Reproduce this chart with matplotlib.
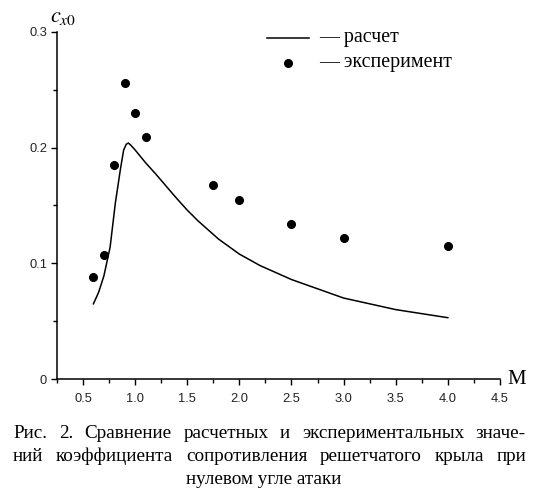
import matplotlib
matplotlib.use("Agg")
import matplotlib.pyplot as plt
from matplotlib.ticker import MultipleLocator, FormatStrFormatter

# расчет (calculated curve)
calc_m = [0.6, 0.65, 0.7, 0.76, 0.81, 0.86, 0.89, 0.915, 0.935, 0.96, 1.0, 1.1,
          1.2, 1.4, 1.5, 1.6, 1.8, 2.0, 2.2, 2.5, 3.0, 3.5, 4.0]
calc_cx = [0.065, 0.075, 0.089, 0.114, 0.152, 0.182, 0.198, 0.203, 0.204, 0.202,
           0.198, 0.187, 0.177, 0.156, 0.146, 0.137, 0.121, 0.108, 0.098, 0.086,
           0.070, 0.060, 0.053]

# эксперимент (experiment)
exp_m = [0.6, 0.7, 0.8, 0.9, 1.0, 1.1, 1.75, 2.0, 2.5, 3.0, 4.0]
exp_cx = [0.088, 0.107, 0.185, 0.256, 0.230, 0.209, 0.168, 0.155, 0.134, 0.122, 0.115]

x_ticks = [0.5, 1.0, 1.5, 2.0, 2.5, 3.0, 3.5, 4.0, 4.5]
y_ticks = [0, 0.1, 0.2, 0.3]
y_labels = ["0", "0.1", "0.2", "0.3"]

caption = [
    "Рис. 2. Сравнение расчетных и экспериментальных значе-",
    "ний коэффициента сопротивления решетчатого крыла при",
    "нулевом угле атаки",
]

serif = ["Liberation Serif", "DejaVu Serif"]
sans = ["Liberation Sans", "DejaVu Sans"]

fig = plt.figure(figsize=(5.53, 5.0), dpi=100)
ax = fig.add_axes([0.103, 0.242, 0.801, 0.694])

ax.plot(calc_m, calc_cx, color="black", linewidth=1.1)
ax.plot(exp_m, exp_cx, "o", color="black", markersize=5.5)

ax.set_xlim(0.25, 4.5)
ax.set_ylim(0, 0.3)
ax.set_xticks(x_ticks)
ax.set_yticks(y_ticks)
ax.set_yticklabels(y_labels)
ax.xaxis.set_minor_locator(MultipleLocator(0.25))
ax.yaxis.set_minor_locator(MultipleLocator(0.05))
ax.xaxis.set_major_formatter(FormatStrFormatter("%.1f"))
ax.tick_params(which="major", length=4, width=1, labelsize=9.3, color="black")
ax.tick_params(which="minor", length=3, width=1, color="black")
ax.tick_params(axis="x", pad=6)
ax.tick_params(axis="y", pad=3)
for lbl in ax.get_xticklabels() + ax.get_yticklabels():
    lbl.set_family(sans)
    lbl.set_color("#222222")

for side in ["top", "right"]:
    ax.spines[side].set_visible(False)
for side in ["left", "bottom"]:
    ax.spines[side].set_linewidth(1.1)

# axis titles
ax.text(1.016, 0.0, "M", transform=ax.transAxes, family=serif, fontsize=15,
        ha="left", va="center")
ax.text(-0.015, 1.015, r"$c_{x0}$", transform=ax.transAxes, fontsize=16,
        ha="left", va="bottom", math_fontfamily="stix")

# legend drawn by hand
ax.plot([0.474, 0.569], [0.984, 0.984], transform=ax.transAxes, color="black",
        linewidth=1.1, clip_on=False)
ax.plot([0.521], [0.911], "o", transform=ax.transAxes, color="black",
        markersize=5.5, clip_on=False)
ax.text(0.591, 0.984, "— расчет", transform=ax.transAxes, family=serif,
        fontsize=14.3, va="center", ha="left")
ax.text(0.591, 0.911, "— эксперимент", transform=ax.transAxes, family=serif,
        fontsize=14.3, va="center", ha="left")

# caption: first two lines justified between x0 and x1, last line centered
W, H = 553, 500
x0, x1 = 13 / W, 526 / W
baselines = [438, 461, 484]
renderer = fig.canvas.get_renderer()
for i, line in enumerate(caption):
    yb = 1 - baselines[i] / H
    if i == len(caption) - 1:
        fig.text(263.5 / W, yb, line, family=serif, fontsize=13.8,
                 ha="center", va="baseline")
        continue
    words = line.split()
    texts = [fig.text(0, yb, w, family=serif, fontsize=13.8, va="baseline")
             for w in words]
    widths = [t.get_window_extent(renderer).width / W for t in texts]
    gap = (x1 - x0 - sum(widths)) / (len(words) - 1)
    x = x0
    for t, w in zip(texts, widths):
        t.set_x(x)
        x += w + gap

fig.savefig("out.png", dpi=100)
